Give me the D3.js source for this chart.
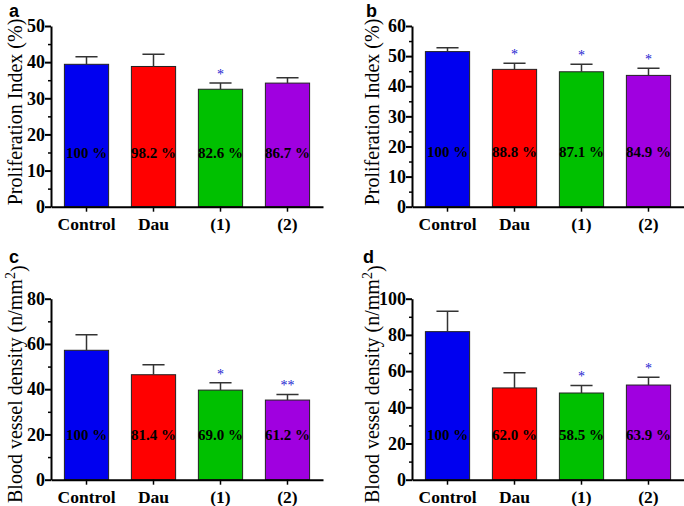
<!DOCTYPE html>
<html>
<head>
<meta charset="utf-8">
<script src="https://cdn.jsdelivr.net/npm/d3@7"></script>
<style>
  body { margin: 0; background: #fff; }
  svg { display: block; }
</style>
</head>
<body>
<script>
// data
var categories = ["Control", "Dau", "(1)", "(2)"];

var piA = [39.4, 38.8, 32.5, 34.2];
var piAErr = [2.1, 3.4, 1.7, 1.5];
var piALabels = ["100 %", "98.2 %", "82.6 %", "86.7 %"];
var piAStars = ["", "", "*", ""];

var piB = [51.5, 45.6, 44.8, 43.6];
var piBErr = [1.3, 2.0, 2.5, 2.4];
var piBLabels = ["100 %", "88.8 %", "87.1 %", "84.9 %"];
var piBStars = ["", "*", "*", "*"];

var bvC = [57.2, 46.4, 39.6, 35.2];
var bvCErr = [6.9, 4.4, 3.3, 2.5];
var bvCLabels = ["100 %", "81.4 %", "69.0 %", "61.2 %"];
var bvCStars = ["", "", "*", "**"];

var bvD = [81.8, 50.7, 47.9, 52.3];
var bvDErr = [11.2, 8.4, 4.2, 4.3];
var bvDLabels = ["100 %", "62.0 %", "58.5 %", "63.9 %"];
var bvDStars = ["", "", "*", "*"];

var colors = ["#0000f0", "#ff0000", "#00c000", "#a000e0"];

var serif = "Liberation Serif";

var svg = d3.select("body").append("svg")
    .attr("width", 684)
    .attr("height", 506);

function drawPanel(opt) {
  var width = 272, height = opt.height;
  var g = svg.append("g")
      .attr("transform", `translate(${opt.left},${opt.top})`);

  var x = d3.scaleBand()
      .domain(categories)
      .range([0, width])
      .paddingInner(0.34)
      .paddingOuter(0.2);

  var y = d3.scaleLinear()
      .domain([0, opt.max])
      .range([height, 0]);

  var data = categories.map(function(c, i) {
    return {cat: c, value: opt.values[i], err: opt.errs[i],
            label: opt.labels[i], star: opt.stars[i], color: colors[i]};
  });

  // bars
  g.selectAll(".bar")
      .data(data)
    .enter().append("rect")
      .attr("class", "bar")
      .attr("x", function(d) { return x(d.cat); })
      .attr("y", function(d) { return y(d.value); })
      .attr("width", x.bandwidth())
      .attr("height", function(d) { return height - y(d.value); })
      .attr("fill", function(d) { return d.color; })
      .attr("stroke", "#222")
      .attr("stroke-width", 1);

  // error bars (upper only)
  var cx = function(d) { return x(d.cat) + x.bandwidth() / 2; };
  var capW = x.bandwidth() / 4;
  g.selectAll(".err")
      .data(data)
    .enter().append("path")
      .attr("class", "err")
      .attr("d", function(d) {
        var c = cx(d), t = y(d.value + d.err);
        return `M${c},${y(d.value)}V${t}M${c - capW},${t}H${c + capW}`;
      })
      .attr("fill", "none")
      .attr("stroke", "#333")
      .attr("stroke-width", 1.5);

  // significance stars
  g.selectAll(".star")
      .data(data)
    .enter().append("text")
      .attr("x", cx)
      .attr("y", function(d) { return y(d.value + d.err) - 4; })
      .attr("text-anchor", "middle")
      .attr("font-family", serif)
      .attr("font-size", 14)
      .attr("fill", "#1a1ad0")
      .text(function(d) { return d.star; });

  // percent labels
  g.selectAll(".pct")
      .data(data)
    .enter().append("text")
      .attr("x", cx)
      .attr("y", y(opt.labelAt))
      .attr("dy", "0.35em")
      .attr("text-anchor", "middle")
      .attr("font-family", serif)
      .attr("font-weight", "bold")
      .attr("font-size", 15)
      .attr("fill", "#000")
      .text(function(d) { return d.label; });

  // y axis with minor ticks
  var minor = d3.range(opt.step / 2, opt.max, opt.step);
  g.append("g")
      .call(d3.axisLeft(y).tickValues(minor).tickSize(3).tickFormat(""))
      .call(function(a) { a.select(".domain").remove(); })
      .selectAll("line").attr("stroke-width", 1.5);

  var yAxis = g.append("g")
      .call(d3.axisLeft(y)
        .tickValues(d3.range(0, opt.max + 1, opt.step))
        .tickSize(6).tickSizeOuter(0).tickPadding(0));
  yAxis.select(".domain").attr("stroke-width", 2);
  yAxis.selectAll("line").attr("stroke-width", 2);
  yAxis.selectAll("text")
      .attr("font-family", serif)
      .attr("font-weight", "bold")
      .attr("font-size", 18)
      .attr("fill", "#000");

  // x axis
  var xAxis = g.append("g")
      .attr("transform", "translate(0," + height + ")")
      .call(d3.axisBottom(x).tickSize(5).tickSizeOuter(0).tickPadding(6));
  xAxis.select(".domain").attr("stroke-width", 2);
  xAxis.selectAll("line").attr("stroke-width", 1.5);
  xAxis.selectAll("text")
      .attr("font-family", serif)
      .attr("font-weight", "bold")
      .attr("font-size", 17.5)
      .attr("fill", "#000");

  // y title
  var title = g.append("text")
      .attr("transform", `translate(${opt.titleX},${opt.titleY}) rotate(-90)`)
      .attr("text-anchor", "middle")
      .attr("dy", "0.35em")
      .attr("font-family", serif)
      .attr("font-size", 20)
      .attr("fill", "#000");
  if (opt.sup) {
    title.append("tspan").text(opt.title);
    title.append("tspan").attr("dy", "-0.5em").attr("font-size", 14).text("2");
    title.append("tspan").attr("dy", "0.5em").text(")");
  } else {
    title.text(opt.title);
  }

  // panel letter
  svg.append("text")
      .attr("x", opt.letterX)
      .attr("y", opt.letterY)
      .attr("font-family", "Liberation Sans")
      .attr("font-weight", "bold")
      .attr("font-size", 18)
      .attr("fill", "#000")
      .text(opt.letter);
}

drawPanel({left: 51, top: 26, height: 180.7, max: 50, step: 10,
  values: piA, errs: piAErr, labels: piALabels, stars: piAStars, labelAt: 15,
  title: "Proliferation Index (%)", titleX: -36, titleY: 86,
  letter: "a", letterX: 9, letterY: 16.5});

drawPanel({left: 412, top: 26, height: 180.7, max: 60, step: 10,
  values: piB, errs: piBErr, labels: piBLabels, stars: piBStars, labelAt: 18.3,
  title: "Proliferation Index (%)", titleX: -40, titleY: 86,
  letter: "b", letterX: 366, letterY: 16.5});

drawPanel({left: 51, top: 298.7, height: 181, max: 80, step: 20,
  values: bvC, errs: bvCErr, labels: bvCLabels, stars: bvCStars, labelAt: 20,
  title: "Blood vessel density (n/mm", sup: true, titleX: -36, titleY: 85.5,
  letter: "c", letterX: 9, letterY: 263});

drawPanel({left: 412, top: 298.7, height: 181, max: 100, step: 20,
  values: bvD, errs: bvDErr, labels: bvDLabels, stars: bvDStars, labelAt: 25,
  title: "Blood vessel density (n/mm", sup: true, titleX: -40, titleY: 85.5,
  letter: "d", letterX: 363, letterY: 263});
</script>
</body>
</html>
